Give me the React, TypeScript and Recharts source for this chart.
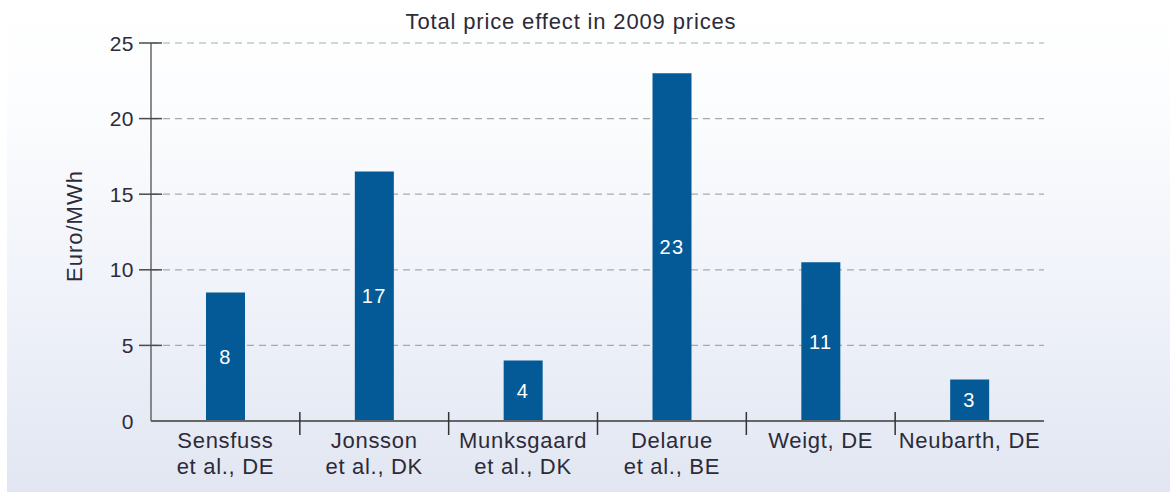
import React from 'react';
import { BarChart, Bar, XAxis, YAxis, CartesianGrid, LabelList, Label } from 'recharts';

const categoriesLine1 = ['Sensfuss', 'Jonsson', 'Munksgaard', 'Delarue', 'Weigt, DE', 'Neubarth, DE'];
const categoriesLine2 = ['et al., DE', 'et al., DK', 'et al., DK', 'et al., BE', '', ''];
const values = [8.5, 16.5, 4.0, 23.0, 10.5, 2.75];
const valueLabels = ['8', '17', '4', '23', '11', '3'];
const yTicks = [0, 5, 10, 15, 20, 25];

const title = 'Total price effect in 2009 prices';
const yAxisTitle = 'Euro/MWh';

const data = categoriesLine1.map((c, i) => ({
  name: c,
  line2: categoriesLine2[i],
  value: values[i],
  label: valueLabels[i],
}));

const FONT = '"Liberation Sans", Arial, Helvetica, sans-serif';
const TEXT = '#2c2b39';
const W = 1170;
const H = 493;
const M = { top: 43, right: 126, bottom: 0, left: 0 };
const Y_W = 151;
const X_H = 72;
const BAND_HALF = (W - M.right - Y_W) / categoriesLine1.length / 2;

const YTick = (props: any) => {
  const { x, y, payload } = props;
  return (
    <g>
      {payload.value !== 0 && (
        <line x1={x - 12} x2={x + 11} y1={y} y2={y} stroke="#4a4a4a" strokeWidth={1.5} />
      )}
      <text x={x - 17} y={y} dy="0.36em" textAnchor="end" fontFamily={FONT} fontSize={21} fill={TEXT} letterSpacing={0.5}>
        {payload.value}
      </text>
    </g>
  );
};

const XTick = (props: any) => {
  const { x, y, payload, index } = props;
  const d = data[index] || data.find((r) => r.name === payload.value);
  const off = payload && typeof payload.offset === 'number' && payload.offset > 0 ? payload.offset : BAND_HALF;
  return (
    <g>
      {index < categoriesLine1.length - 1 && (
        <line x1={x + off} x2={x + off} y1={y - 9} y2={y + 14} stroke="#333" strokeWidth={1.5} />
      )}
      <text x={x} y={y + 27} textAnchor="middle" fontFamily={FONT} fontSize={22} fill={TEXT} letterSpacing={0.7}>
        {payload.value}
      </text>
      {d && d.line2 && (
        <text x={x} y={y + 53} textAnchor="middle" fontFamily={FONT} fontSize={22} fill={TEXT} letterSpacing={0.7}>
          {d.line2}
        </text>
      )}
    </g>
  );
};

const YLabel = (props: any) => {
  const vb = props.viewBox || { x: 0, y: M.top, width: Y_W, height: H - M.top - X_H };
  const cx = vb.x + 74;
  const cy = vb.y + vb.height / 2 - 6;
  return (
    <text
      x={cx}
      y={cy}
      transform={`rotate(-90, ${cx}, ${cy})`}
      textAnchor="middle"
      dominantBaseline="central"
      fontFamily={FONT}
      fontSize={22}
      fill={TEXT}
      letterSpacing={1}
    >
      {yAxisTitle}
    </text>
  );
};

export default function App() {
  return (
    <div style={{ position: 'absolute', left: 0, top: 0, width: W, height: H, background: '#ffffff', overflow: 'hidden' }}>
      <div
        style={{
          position: 'absolute',
          left: 7,
          top: 0,
          width: W - 7,
          height: H - 1,
          background: 'linear-gradient(to bottom, #ffffff 0%, #fcfdfe 20%, #eff2f9 62%, #e1e6f2 100%)',
        }}
      />
      <div
        style={{
          position: 'absolute',
          left: 571,
          top: 11,
          transform: 'translateX(-50%)',
          whiteSpace: 'nowrap',
          fontFamily: FONT,
          fontSize: 22,
          lineHeight: '22px',
          color: TEXT,
          letterSpacing: 0.85,
        }}
      >
        {title}
      </div>
      <div style={{ position: 'absolute', left: 0, top: 0 }}>
        <BarChart width={W} height={H} data={data} margin={M} barSize={39}>
          <CartesianGrid vertical={false} stroke="#a9a9a9" strokeDasharray="7 5" strokeWidth={1.2} />
          <XAxis
            dataKey="name"
            height={X_H}
            tickLine={false}
            tickSize={0}
            tickMargin={0}
            interval={0}
            axisLine={{ stroke: '#666666', strokeWidth: 2 }}
            tick={<XTick />}
          />
          <YAxis
            width={Y_W}
            domain={[0, 25]}
            ticks={yTicks}
            interval={0}
            tickLine={false}
            tickSize={0}
            tickMargin={0}
            axisLine={{ stroke: '#666666', strokeWidth: 1.5 }}
            tick={<YTick />}
          >
            <Label content={<YLabel />} />
          </YAxis>
          <Bar dataKey="value" fill="#035a96" isAnimationActive={false}>
            <LabelList
              dataKey="label"
              position="center"
              fill="#ffffff"
              fontSize={20}
              fontFamily={FONT}
              letterSpacing={1.5}
            />
          </Bar>
        </BarChart>
      </div>
    </div>
  );
}
